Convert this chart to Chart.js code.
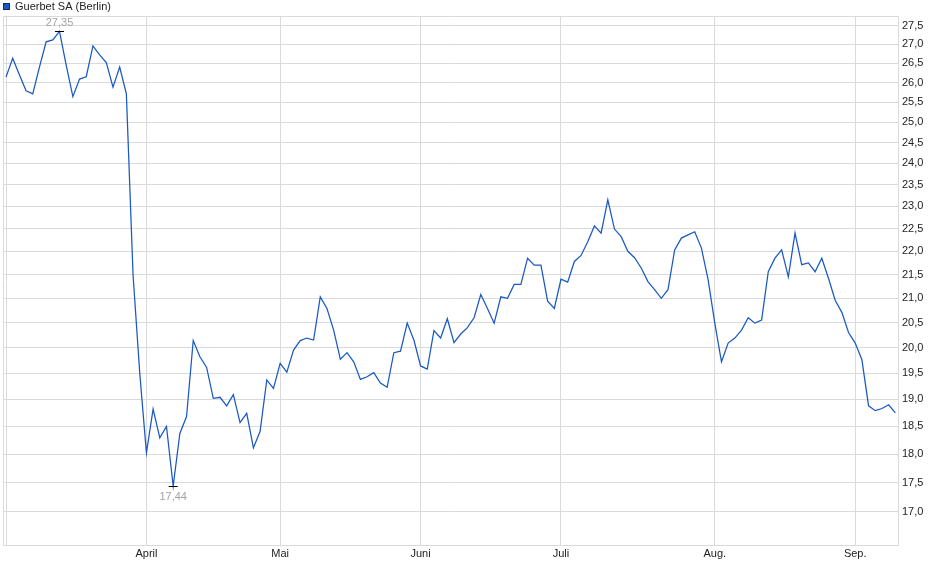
<!DOCTYPE html>
<html>
<head>
<meta charset="utf-8">
<script src="https://cdn.jsdelivr.net/npm/chart.js@4"></script>
<style>
html,body{margin:0;padding:0;background:#fff;}
#wrap{width:940px;height:579px;position:relative;}
</style>
</head>
<body>
<div id="wrap"><canvas id="c" width="940" height="579"></canvas></div>
<script>
const seriesLabel = 'Guerbet SA (Berlin)';
// trading-day closing prices, 3 Mar .. 9 Sep
const values = [
  26.14, 26.63, 26.20, 25.79, 25.71, 26.40, 27.07, 27.12, 27.35, 26.45,
  25.64, 26.09, 26.15, 26.96, 26.72, 26.52, 25.88, 26.40, 25.71, 21.49,
  19.50, 18.02, 18.82, 18.29, 18.50, 17.44, 18.37, 18.68, 20.14, 19.82,
  19.61, 19.02, 19.04, 18.88, 19.09, 18.57, 18.74, 18.11, 18.41, 19.37,
  19.21, 19.69, 19.52, 19.95, 20.14, 20.19, 20.15, 21.03, 20.79, 20.35,
  19.77, 19.90, 19.72, 19.38, 19.43, 19.51, 19.31, 19.23, 19.90, 19.93,
  20.49, 20.15, 19.64, 19.58, 20.34, 20.19, 20.58, 20.10, 20.27, 20.40,
  20.60, 21.08, 20.79, 20.49, 21.03, 21.00, 21.29, 21.29, 21.85, 21.70,
  21.70, 20.94, 20.79, 21.40, 21.34, 21.78, 21.91, 22.21, 22.56, 22.40,
  23.15, 22.49, 22.32, 22.00, 21.86, 21.64, 21.35, 21.18, 21.00, 21.18,
  22.03, 22.29, 22.36, 22.43, 22.07, 21.39, 20.49, 19.72, 20.09, 20.19,
  20.35, 20.60, 20.49, 20.55, 21.56, 21.85, 22.03, 21.45, 22.40, 21.71,
  21.75, 21.56, 21.85, 21.42, 20.96, 20.71, 20.30, 20.09, 19.76, 18.88,
  18.79, 18.83, 18.90, 18.75
];
// first trading day of each month (index into values) and its label
const monthIndex = [0, 21, 41, 62, 83, 106, 127];
const monthLabels = ['', 'April', 'Mai', 'Juni', 'Juli', 'Aug.', 'Sep.'];
const yTicks = [17.0, 17.5, 18.0, 18.5, 19.0, 19.5, 20.0, 20.5, 21.0, 21.5, 22.0,
                22.5, 23.0, 23.5, 24.0, 24.5, 25.0, 25.5, 26.0, 26.5, 27.0, 27.5];

const FONT = 'Liberation Sans, Arial, Helvetica, sans-serif';
const GRID = '#dadada';
const LINE = '#1a58c4';
const fmt = v => Number(v).toFixed(2).replace('.', ',');

const framePlugin = {
  id: 'frame',
  beforeDatasetsDraw(chart) {
    const {ctx, chartArea: a} = chart;
    ctx.save();
    ctx.strokeStyle = GRID;
    ctx.lineWidth = 1;
    ctx.beginPath();
    ctx.moveTo(a.left + 0.5, a.bottom);
    ctx.lineTo(a.left + 0.5, a.top + 0.5);
    ctx.lineTo(a.right, a.top + 0.5);
    ctx.stroke();
    ctx.restore();
  },
  afterDraw(chart) {
    const {ctx} = chart;
    const xs = chart.scales.x, ys = chart.scales.y;
    ctx.save();
    // legend
    ctx.fillStyle = LINE;
    ctx.fillRect(3, 3, 7, 7);
    ctx.strokeStyle = '#1b2a50';
    ctx.lineWidth = 1;
    ctx.strokeRect(3.5, 3.5, 6, 6);
    ctx.fillStyle = '#222';
    ctx.font = '11px ' + FONT;
    ctx.textBaseline = 'middle';
    ctx.textAlign = 'left';
    ctx.fillText(seriesLabel, 15, 6.5);
    // max / min markers
    let iMax = 0, iMin = 0;
    values.forEach((v, i) => { if (v > values[iMax]) iMax = i; if (v < values[iMin]) iMin = i; });
    const mark = (i, above) => {
      const px = xs.getPixelForValue(i), py = Math.round(ys.getPixelForValue(values[i])) + 0.5;
      ctx.strokeStyle = '#000';
      ctx.beginPath();
      ctx.moveTo(px - 4.5, py); ctx.lineTo(px + 4.5, py);
      ctx.stroke();
      ctx.fillStyle = '#a4a4a4';
      ctx.textAlign = 'center';
      ctx.fillText(fmt(values[i]), px, above ? py - 9 : py + 10.5);
    };
    mark(iMax, true);
    mark(iMin, false);
    ctx.restore();
  }
};

new Chart(document.getElementById('c'), {
  type: 'line',
  data: {
    datasets: [{
      label: seriesLabel,
      data: values.map((v, i) => ({x: i, y: v})),
      borderColor: LINE,
      borderWidth: 1.25,
      pointRadius: 0,
      tension: 0,
      fill: false
    }]
  },
  options: {
    responsive: false,
    devicePixelRatio: 1,
    animation: false,
    layout: {padding: {left: 3, top: 16, right: 0, bottom: 0}},
    plugins: {legend: {display: false}, tooltip: {enabled: false}},
    scales: {
      x: {
        type: 'linear',
        min: -0.45,
        max: 133.4,
        afterBuildTicks: s => { s.ticks = monthIndex.map(v => ({value: v})); },
        afterFit: s => { s.height = 34; },
        ticks: {
          autoSkip: false, maxRotation: 0, padding: 2,
          color: '#222', font: {family: FONT, size: 11},
          callback: (v, i) => monthLabels[i]
        },
        grid: {color: GRID, drawTicks: false},
        border: {color: GRID}
      },
      y: {
        type: 'logarithmic',
        position: 'right',
        min: 16.45,
        max: 27.77,
        afterBuildTicks: s => { s.ticks = yTicks.map(v => ({value: v})); },
        afterFit: s => { s.width = 42; },
        ticks: {
          autoSkip: false, padding: 4,
          color: '#222', font: {family: FONT, size: 11},
          callback: v => Number(v).toFixed(1).replace('.', ',')
        },
        grid: {color: GRID, drawTicks: false},
        border: {color: GRID}
      }
    }
  },
  plugins: [framePlugin]
});
</script>
</body>
</html>
